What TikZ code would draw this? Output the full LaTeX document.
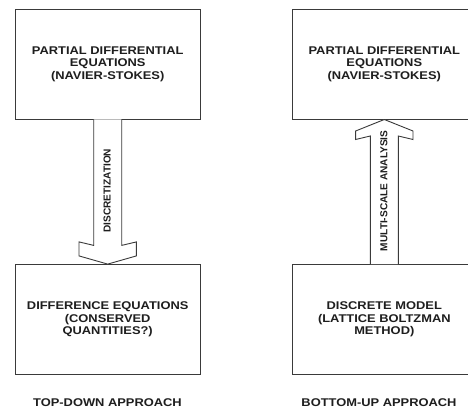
\documentclass[tikz,border=0pt]{standalone}
\usepackage{fontspec}
\setmainfont{Liberation Sans}
\newfontfamily\widefont{Liberation Sans}[FakeStretch=1.15]
\usetikzlibrary{calc}
\definecolor{linec}{HTML}{3A3A3A}
\definecolor{textc}{HTML}{1E1E1E}
\begin{document}
\begin{tikzpicture}[x=1pt,y=-1pt,
  box/.style={draw=linec, line width=0.9pt, minimum width=184.7pt, minimum height=109.7pt, inner sep=0pt, align=center, font=\widefont\bfseries\fontsize{11.2}{12.4}\selectfont, text=textc},
  arrowshape/.style={draw=linec, line width=0.9pt, fill=white, line join=miter},
  arrowlabel/.style={font=\bfseries\fontsize{10.1}{12}\selectfont, rotate=90, text=textc, inner sep=0pt},
  caption/.style={font=\widefont\bfseries\fontsize{11.2}{12.4}\selectfont, text=textc, inner sep=0pt}]
\clip (0,0) rectangle (468,409);
\fill[white] (0,0) rectangle (468,409);

\node[box] (pdeL) at (107.7,64.2) {PARTIAL DIFFERENTIAL\\EQUATIONS\\(NAVIER-STOKES)};
\node[box] (deL) at (107.7,319.4) {DIFFERENCE EQUATIONS\\(CONSERVED\\QUANTITIES?)};
\node[box] (pdeR) at (384.3,64.2) {PARTIAL DIFFERENTIAL\\EQUATIONS\\(NAVIER-STOKES)};
\node[box] (dmR) at (384.3,319.4) {DISCRETE MODEL\\(LATTICE BOLTZMAN\\METHOD)};

\draw[arrowshape] ($(pdeL.south)+(-14,0)$) -- ($(deL.north)+(-14,-18.7)$) -- ($(deL.north)+(-28.7,-22.2)$) -- ($(deL.north)+(-28.7,-8.2)$) -- (deL.north) -- ($(deL.north)+(28.7,-8.2)$) -- ($(deL.north)+(28.7,-22.2)$) -- ($(deL.north)+(14,-18.7)$) -- ($(pdeL.south)+(14,0)$);

\draw[arrowshape] ($(dmR.north)+(-14,0)$) -- ($(pdeR.south)+(-14,16.5)$) -- ($(pdeR.south)+(-28.7,20)$) -- ($(pdeR.south)+(-28.7,11.5)$) -- (pdeR.south) -- ($(pdeR.south)+(28.7,11.5)$) -- ($(pdeR.south)+(28.7,20)$) -- ($(pdeR.south)+(14,16.5)$) -- ($(dmR.north)+(14,0)$);

\node[arrowlabel] (lblL) at ($(pdeL.south)!0.5!(deL.north)+(-0.5,-1)$) {DISCRETIZATION};
\node[arrowlabel] (lblR) at ($(pdeR.south)!0.5!(dmR.north)+(-0.5,-1)$) {MULTI-SCALE ANALYSIS};

\node[caption] (capL) at (107.5,402.3) {TOP-DOWN APPROACH};
\node[caption] (capR) at (379,402.3) {BOTTOM-UP APPROACH};
\end{tikzpicture}
\end{document}
